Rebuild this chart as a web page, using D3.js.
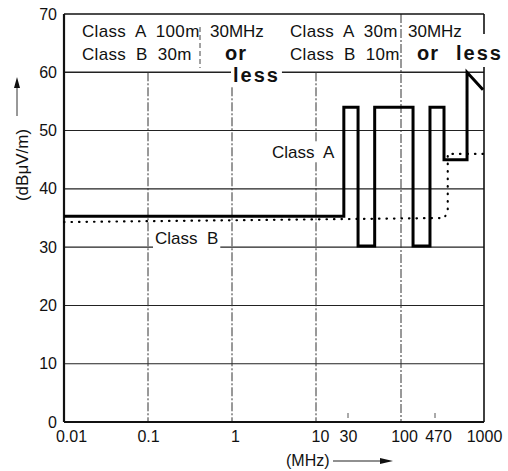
<!DOCTYPE html>
<html><head><meta charset="utf-8">
<script src="https://cdn.jsdelivr.net/npm/d3@7"></script>
<style>
html,body{margin:0;padding:0;background:#fff;}
svg{display:block;}
text{font-family:"Liberation Sans",Arial,sans-serif;fill:#111;}
</style></head>
<body><svg id="c" width="508" height="471"></svg>
<script>
// ---- data ----
const xTickValues = [0.01, 0.1, 1, 10, 30, 100, 470, 1000];
const xTickLabels = ["0.01", "0.1", "1", "10", "30", "100", "470", "1000"];
const yTickValues = [0, 10, 20, 30, 40, 50, 60, 70];
const xGridValues = [0.1, 1, 10, 100];
const yGridValues = [10, 20, 30, 40, 50, 60];
const minorTickValues = [30, 470];
const classAFreq = [0.01, 26, 26, 37.7, 37.7, 55, 55, 173, 173, 374, 374, 540, 540, 770, 770, 985];
const classAdB   = [35.3, 35.3, 54, 54, 30.2, 30.2, 54, 54, 30.2, 30.2, 54, 54, 45, 45, 60, 57];
const classBFreq = [0.01, 545, 572, 572, 1000];
const classBdB   = [34.3, 35, 36.5, 46, 46];

// ---- scales ----
const svg = d3.select("#c");
const x = d3.scaleLog().domain([0.01, 10, 30, 100, 470, 1000]).range([64, 316, 348, 401, 435, 484]);
const y = d3.scaleLinear().domain([0, 70]).range([422, 14]);

const g = svg.append("g");
const bgLayer = svg.append("g");
const txtLayer = svg.append("g");

// grid
g.selectAll(".hg").data(yGridValues).join("line")
  .attr("x1", x(0.01)).attr("x2", x(1000))
  .attr("y1", d => y(d)).attr("y2", d => y(d))
  .attr("stroke", "#222").attr("stroke-width", d => d === 60 ? 1.6 : 1.1);
g.selectAll(".vg").data(xGridValues).join("line")
  .attr("x1", d => x(d)).attr("x2", d => x(d))
  .attr("y1", d => d === 100 ? y(70) : y(60)).attr("y2", y(0))
  .attr("stroke", "#333").attr("stroke-width", 1).attr("stroke-dasharray", "9,2,2,2");
// separator in header box
g.append("line").attr("x1", 200).attr("x2", 200).attr("y1", 27).attr("y2", 68)
  .attr("stroke", "#444").attr("stroke-width", 1).attr("stroke-dasharray", "5,3");

// minor ticks
g.selectAll(".mt").data(minorTickValues).join("line")
  .attr("x1", d => x(d)).attr("x2", d => x(d))
  .attr("y1", y(0) - 9).attr("y2", y(0) - 4)
  .attr("stroke", "#555").attr("stroke-width", 1);

// frame
g.append("line").attr("x1", x(0.01)).attr("x2", x(1000)).attr("y1", y(70)).attr("y2", y(70)).attr("stroke", "#111").attr("stroke-width", 1.6);
g.append("line").attr("x1", x(1000)).attr("x2", x(1000)).attr("y1", y(70)).attr("y2", y(0)).attr("stroke", "#111").attr("stroke-width", 1.6);
g.append("line").attr("x1", x(0.01)).attr("x2", x(1000)).attr("y1", y(0)).attr("y2", y(0)).attr("stroke", "#111").attr("stroke-width", 2.2);
g.append("line").attr("x1", x(0.01)).attr("x2", x(0.01)).attr("y1", y(70)).attr("y2", y(0)).attr("stroke", "#111").attr("stroke-width", 2.2);

// labels with white backgrounds
function label(txt, px, py, opts = {}) {
  const t = txtLayer.append("text").attr("x", px).attr("y", py).text(txt)
    .attr("font-size", opts.size || 17)
    .attr("font-weight", opts.bold ? "bold" : "normal")
    .style("letter-spacing", (opts.ls || 0) + "px")
    .style("white-space", "pre");
  if (opts.bg) {
    const b = t.node().getBBox();
    const top = opts.bgTop || 0, bot = opts.bgBot || 0;
    bgLayer.append("rect")
      .attr("x", b.x - 2).attr("y", b.y - top).attr("width", b.width + 4).attr("height", b.height + top + bot)
      .attr("fill", "#fff");
  }
  return t;
}
label("Class  A  100m", 82, 37, {ls: 0.3});
label("30MHz", 210, 37);
label("Class  B  30m", 82, 60, {ls: 0.3});
label("or", 225, 60, {size: 20, bold: true, ls: 1});
label("less", 233, 82, {size: 20, bold: true, ls: 2, bg: true});
label("Class  A  30m", 290, 37, {ls: 0.3});
label("30MHz", 408, 37);
label("Class  B  10m", 290, 60, {ls: 0.3});
label("or", 417, 60, {size: 20, bold: true, ls: 1});
label("less", 456, 60, {size: 20, bold: true, ls: 2, bg: true, bgTop: 8, bgBot: 3});
label("Class  A", 272, 158, {bg: true});
label("Class  B", 155, 244, {bg: true, bgBot: 2});

// data lines
const lineA = d3.line().x(d => x(d[0])).y(d => y(d[1]));
svg.append("path").datum(classAFreq.map((f, i) => [f, classAdB[i]]))
  .attr("d", lineA).attr("fill", "none").attr("stroke", "#000")
  .attr("stroke-width", 3).attr("stroke-linejoin", "miter");
svg.append("path").datum(classBFreq.map((f, i) => [f, classBdB[i]]))
  .attr("d", lineA).attr("fill", "none").attr("stroke", "#000")
  .attr("stroke-width", 2.2).attr("stroke-linecap", "round").attr("stroke-dasharray", "0.5,7");

// axes text
const yAxis = d3.axisLeft(y).tickValues(yTickValues).tickSize(0).tickPadding(7).tickFormat(d3.format("d"));
svg.append("g").attr("transform", `translate(${x(0.01)},0)`).call(yAxis)
  .call(s => s.select(".domain").remove())
  .call(s => s.selectAll("text").attr("font-size", 16).attr("font-family", "Liberation Sans, Arial, sans-serif").attr("fill", "#111"));
const xAxis = d3.axisBottom(x).tickValues(xTickValues).tickSize(0).tickPadding(9).tickFormat((d, i) => xTickLabels[i]);
svg.append("g").attr("transform", `translate(0,${y(0)})`).call(xAxis)
  .call(s => s.select(".domain").remove())
  .call(s => s.selectAll("text").attr("font-size", 16).attr("font-family", "Liberation Sans, Arial, sans-serif").attr("fill", "#111")
    .attr("dx", d => d === 0.01 ? 7 : d === 1 ? 3 : d === 10 ? 4 : d === 100 ? 3 : d === 470 ? 3 : 0));

// axis titles
svg.append("text").attr("transform", "translate(28,165) rotate(-90)").attr("text-anchor", "middle")
  .attr("font-size", 17).text("(dBμV/m)");
svg.append("line").attr("x1", 17).attr("x2", 17).attr("y1", 116).attr("y2", 86).attr("stroke", "#333").attr("stroke-width", 1);
svg.append("path").attr("d", "M17,77 L14,88 L20,88 Z").attr("fill", "#111");
svg.append("text").attr("x", 286).attr("y", 466).attr("font-size", 16).text("(MHz)");
svg.append("line").attr("x1", 333).attr("x2", 382).attr("y1", 461).attr("y2", 461).attr("stroke", "#222").attr("stroke-width", 1.2);
svg.append("path").attr("d", "M393,461 L380,458 L380,464 Z").attr("fill", "#111");
</script></body></html>
